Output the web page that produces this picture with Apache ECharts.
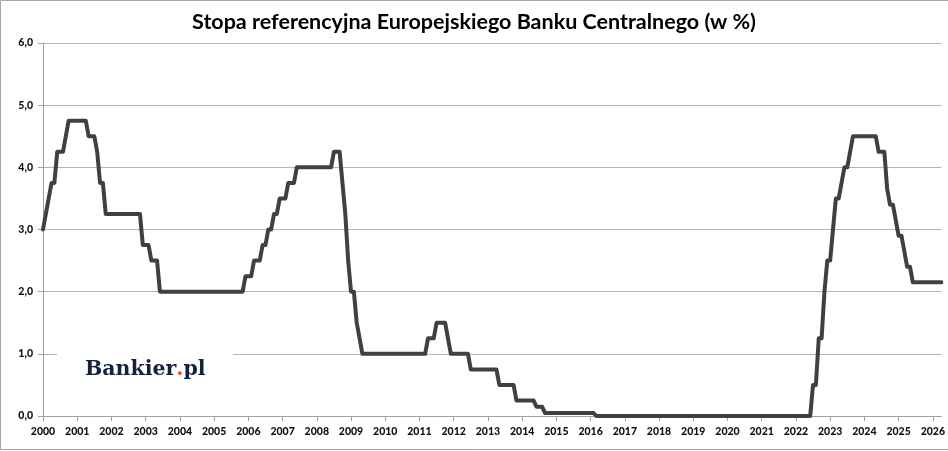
<!DOCTYPE html>
<html>
<head>
<meta charset="utf-8">
<script src="https://cdn.jsdelivr.net/npm/echarts@6/dist/echarts.min.js"></script>
<style>
  html, body { margin: 0; padding: 0; background: #fff; }
  #chart { width: 948px; height: 451px; }
</style>
</head>
<body>
<div id="chart"></div>
<script>
// ECB refi rate, month-end values (Jan 2000 - Apr 2026)
const years = ['2000','2001','2002','2003','2004','2005','2006','2007','2008','2009','2010','2011','2012',
  '2013','2014','2015','2016','2017','2018','2019','2020','2021','2022','2023','2024','2025','2026'];

const rate = [
  3.00, 3.25, 3.50, 3.75, 3.75, 4.25, 4.25, 4.25, 4.50, 4.75, 4.75, 4.75, // 2000
  4.75, 4.75, 4.75, 4.75, 4.50, 4.50, 4.50, 4.25, 3.75, 3.75, 3.25, 3.25, // 2001
  3.25, 3.25, 3.25, 3.25, 3.25, 3.25, 3.25, 3.25, 3.25, 3.25, 3.25, 2.75, // 2002
  2.75, 2.75, 2.50, 2.50, 2.50, 2.00, 2.00, 2.00, 2.00, 2.00, 2.00, 2.00, // 2003
  2.00, 2.00, 2.00, 2.00, 2.00, 2.00, 2.00, 2.00, 2.00, 2.00, 2.00, 2.00, // 2004
  2.00, 2.00, 2.00, 2.00, 2.00, 2.00, 2.00, 2.00, 2.00, 2.00, 2.00, 2.25, // 2005
  2.25, 2.25, 2.50, 2.50, 2.50, 2.75, 2.75, 3.00, 3.00, 3.25, 3.25, 3.50, // 2006
  3.50, 3.50, 3.75, 3.75, 3.75, 4.00, 4.00, 4.00, 4.00, 4.00, 4.00, 4.00, // 2007
  4.00, 4.00, 4.00, 4.00, 4.00, 4.00, 4.25, 4.25, 4.25, 3.75, 3.25, 2.50, // 2008
  2.00, 2.00, 1.50, 1.25, 1.00, 1.00, 1.00, 1.00, 1.00, 1.00, 1.00, 1.00, // 2009
  1.00, 1.00, 1.00, 1.00, 1.00, 1.00, 1.00, 1.00, 1.00, 1.00, 1.00, 1.00, // 2010
  1.00, 1.00, 1.00, 1.25, 1.25, 1.25, 1.50, 1.50, 1.50, 1.50, 1.25, 1.00, // 2011
  1.00, 1.00, 1.00, 1.00, 1.00, 1.00, 0.75, 0.75, 0.75, 0.75, 0.75, 0.75, // 2012
  0.75, 0.75, 0.75, 0.75, 0.50, 0.50, 0.50, 0.50, 0.50, 0.50, 0.25, 0.25, // 2013
  0.25, 0.25, 0.25, 0.25, 0.25, 0.15, 0.15, 0.15, 0.05, 0.05, 0.05, 0.05, // 2014
  0.05, 0.05, 0.05, 0.05, 0.05, 0.05, 0.05, 0.05, 0.05, 0.05, 0.05, 0.05, // 2015
  0.05, 0.05, 0.00, 0.00, 0.00, 0.00, 0.00, 0.00, 0.00, 0.00, 0.00, 0.00, // 2016
  0.00, 0.00, 0.00, 0.00, 0.00, 0.00, 0.00, 0.00, 0.00, 0.00, 0.00, 0.00, // 2017
  0.00, 0.00, 0.00, 0.00, 0.00, 0.00, 0.00, 0.00, 0.00, 0.00, 0.00, 0.00, // 2018
  0.00, 0.00, 0.00, 0.00, 0.00, 0.00, 0.00, 0.00, 0.00, 0.00, 0.00, 0.00, // 2019
  0.00, 0.00, 0.00, 0.00, 0.00, 0.00, 0.00, 0.00, 0.00, 0.00, 0.00, 0.00, // 2020
  0.00, 0.00, 0.00, 0.00, 0.00, 0.00, 0.00, 0.00, 0.00, 0.00, 0.00, 0.00, // 2021
  0.00, 0.00, 0.00, 0.00, 0.00, 0.00, 0.50, 0.50, 1.25, 1.25, 2.00, 2.50, // 2022
  2.50, 3.00, 3.50, 3.50, 3.75, 4.00, 4.00, 4.25, 4.50, 4.50, 4.50, 4.50, // 2023
  4.50, 4.50, 4.50, 4.50, 4.50, 4.25, 4.25, 4.25, 3.65, 3.40, 3.40, 3.15, // 2024
  2.90, 2.90, 2.65, 2.40, 2.40, 2.15, 2.15, 2.15, 2.15, 2.15, 2.15, 2.15, // 2025
  2.15, 2.15, 2.15, 2.15                                                  // 2026
];

// one category per month, labelled by year on January
const months = rate.map((v, i) => years[Math.floor(i / 12)] + '-' + String(i % 12 + 1).padStart(2, '0'));

const FONT = 'Lato, "Open Sans", sans-serif';
const GRID = '#b4b4b4';
const AXIS = '#a0a0a0';

const chart = echarts.init(document.getElementById('chart'), null, { renderer: 'canvas' });

chart.setOption({
  animation: false,
  backgroundColor: '#fff',
  title: {
    text: 'Stopa referencyjna Europejskiego Banku Centralnego (w %)',
    left: 'center',
    top: 6,
    textStyle: { color: '#000', fontFamily: FONT, fontWeight: 'bold', fontSize: 21.5 }
  },
  grid: { left: 43, right: 4, top: 43, bottom: 35 },
  xAxis: {
    type: 'category',
    data: months,
    boundaryGap: false,
    axisLine: { lineStyle: { color: AXIS, width: 1 } },
    axisTick: { show: true, length: 5, lineStyle: { color: AXIS }, interval: (i) => i % 12 === 0 },
    axisLabel: {
      interval: (i) => i % 12 === 0,
      formatter: (v) => v.slice(0, 4),
      color: '#111', fontFamily: FONT, fontWeight: 900, fontSize: 10.5, margin: 10
    },
    splitLine: { show: false }
  },
  yAxis: {
    type: 'value',
    min: 0, max: 6, interval: 1,
    axisLine: { show: true, lineStyle: { color: AXIS, width: 1 } },
    axisTick: { show: true, length: 5, lineStyle: { color: AXIS } },
    axisLabel: {
      formatter: (v) => v.toFixed(1).replace('.', ','),
      color: '#111', fontFamily: FONT, fontWeight: 900, fontSize: 10.5, margin: 10
    },
    splitLine: { lineStyle: { color: GRID, width: 1 } }
  },
  series: [{
    type: 'line',
    data: rate,
    showSymbol: false,
    symbol: 'none',
    lineStyle: { color: '#404040', width: 4, join: 'round', cap: 'round' }
  }],
  graphic: [
    // frame round the whole chart
    { type: 'rect', shape: { x: 0.5, y: 0.5, width: 960, height: 449 },
      style: { fill: 'none', stroke: '#a6a6a6', lineWidth: 1 }, z: 100 },
    // logo box covers the gridline
    { type: 'rect', shape: { x: 57, y: 340, width: 176, height: 55 },
      style: { fill: '#fff' }, z: 100 },
    { type: 'text', z: 101,
      style: {
        x: 85, y: 370,
        text: '{a|Bankier}{b|.}{a|pl}',
        verticalAlign: 'middle',
        rich: {
          a: { fontFamily: '"DejaVu Serif", serif', fontWeight: 'bold', fontSize: 20.5, fill: '#15213f', color: '#15213f' },
          b: { fontFamily: '"DejaVu Serif", serif', fontWeight: 'bold', fontSize: 20.5, fill: '#e8542a', color: '#e8542a' }
        }
      }
    }
  ]
});
</script>
</body>
</html>
